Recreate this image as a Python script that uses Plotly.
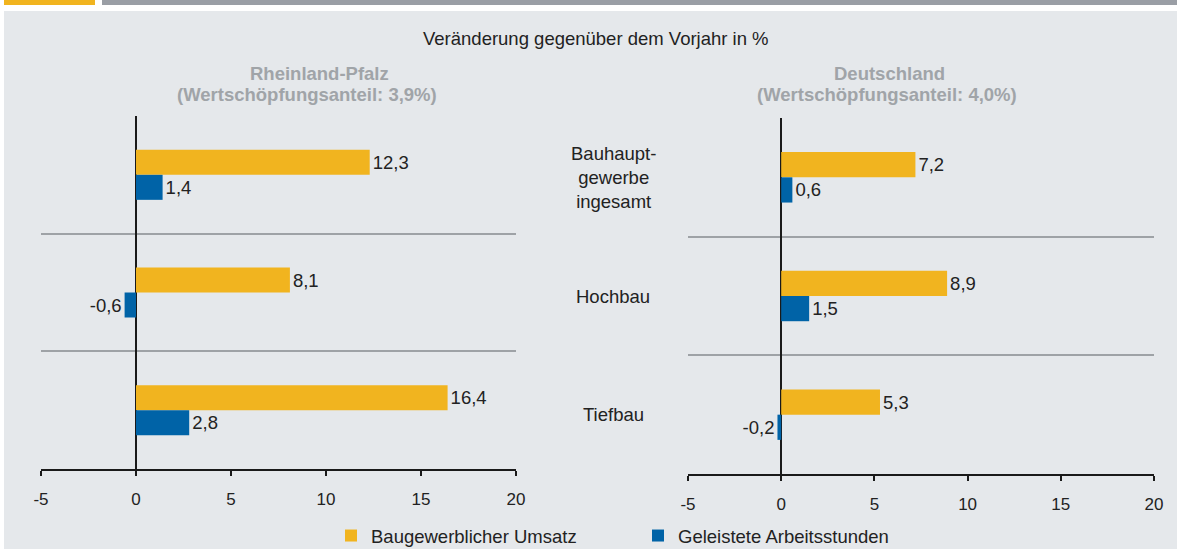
import plotly.graph_objects as go

# ---------------- data ----------------
categories = ["Bauhauptgewerbe ingesamt", "Hochbau", "Tiefbau"]
category_labels = ["Bauhaupt-<br>gewerbe<br>ingesamt", "Hochbau", "Tiefbau"]
series_names = ["Baugewerblicher Umsatz", "Geleistete Arbeitsstunden"]
rlp_umsatz = [12.3, 8.1, 16.4]
rlp_stunden = [1.4, -0.6, 2.8]
de_umsatz = [7.2, 8.9, 5.3]
de_stunden = [0.6, 1.5, -0.2]
x_ticks = [-5, 0, 5, 10, 15, 20]
title_text = "Veränderung gegenüber dem Vorjahr in %"
panel_title_lines = [["Rheinland-Pfalz", "(Wertschöpfungsanteil: 3,9%)"],
                     ["Deutschland", "(Wertschöpfungsanteil: 4,0%)"]]

# ---------------- style ----------------
W, H = 1177, 549
ML, MR, MT, MB = 41, 23, 116, 75
YELLOW = "#F1B41F"
BLUE = "#0063A7"
PANEL = "#E5E8EB"
SEP = "#9EA2A6"
TXT = "#222222"
SUB = "#A0A4A8"
FONT = "Liberation Sans, Arial, sans-serif"
FS = 18.5
FS_TICK = 17


def px(x):
    return (x - ML) / (W - ML - MR)


def py(y):
    return (H - MB - y) / (H - MT - MB)


def fmt(v):
    return f"{v:.1f}".replace(".", ",")


colors = [YELLOW, BLUE]
fig = go.Figure()
for ax, (u, s) in zip(["", "2"], [(rlp_umsatz, rlp_stunden), (de_umsatz, de_stunden)]):
    for name, vals, col in zip(series_names, [u, s], colors):
        fig.add_trace(go.Bar(
            y=categories, x=vals, orientation="h", name=name,
            marker=dict(color=col, line=dict(width=0)),
            text=[fmt(v) for v in vals], textposition="outside",
            textfont=dict(family=FONT, size=FS, color=TXT),
            cliponaxis=False, showlegend=(ax == ""),
            xaxis="x" + ax, yaxis="y" + ax,
        ))

xcommon = dict(range=[x_ticks[0], x_ticks[-1]], tickvals=x_ticks,
               ticktext=[str(t) for t in x_ticks], showgrid=False,
               zeroline=True, zerolinecolor="#1a1a1a", zerolinewidth=2,
               showline=True, linecolor="#1a1a1a", linewidth=2,
               ticks="outside", ticklen=5, tickwidth=2, tickcolor="#1a1a1a",
               tickfont=dict(family=FONT, size=FS_TICK, color=TXT),
               ticklabelstandoff=9, fixedrange=True)
ycommon = dict(categoryorder="array", categoryarray=categories,
               range=[len(categories) - 0.5, -0.5], autorange=False,
               showticklabels=False, ticks="", tickson="boundaries",
               showgrid=True, gridcolor=SEP, gridwidth=2,
               zeroline=False, showline=False, fixedrange=True)

shapes = [
    dict(type="rect", xref="paper", yref="paper", x0=px(4), x1=px(W), y0=py(11), y1=py(H),
         fillcolor=PANEL, line=dict(width=0), layer="below"),
    dict(type="rect", xref="paper", yref="paper", x0=px(4), x1=px(95), y0=py(0), y1=py(5),
         fillcolor="#F1B41F", line=dict(width=0), layer="below"),
    dict(type="rect", xref="paper", yref="paper", x0=px(102), x1=px(W), y0=py(0), y1=py(5),
         fillcolor="#9A9EA5", line=dict(width=0), layer="below"),
]

annotations = [
    dict(text=title_text, xref="paper", yref="paper", x=px(596), y=py(38),
         xanchor="center", yanchor="middle",
         showarrow=False, font=dict(family=FONT, size=FS, color=TXT)),
]
title_pos = [[(319, 73), (307, 95)], [(889, 73), (887, 95)]]
for lines, poss in zip(panel_title_lines, title_pos):
    for line, (xx, yy) in zip(lines, poss):
        annotations.append(dict(text="<b>" + line + "</b>", xref="paper", yref="paper",
                                x=px(xx), y=py(yy), xanchor="center", yanchor="middle",
                                showarrow=False,
                                font=dict(family=FONT, size=FS, color=SUB)))
for cat, lab in zip(categories, category_labels):
    annotations.append(dict(text=lab, xref="paper", yref="y2", x=px(613), y=cat,
                            xanchor="center", yanchor="middle",
                            showarrow=False, align="center",
                            font=dict(family=FONT, size=FS, color=TXT)))

fig.update_layout(
    width=W, height=H, margin=dict(l=ML, r=MR, t=MT, b=MB, pad=0, autoexpand=False),
    paper_bgcolor="white", plot_bgcolor="rgba(0,0,0,0)",
    barmode="group", bargap=0.575, bargroupgap=0,
    font=dict(family=FONT, size=FS, color=TXT),
    xaxis=dict(domain=[px(41), px(516)], anchor="y", **xcommon),
    xaxis2=dict(domain=[px(688), px(1154)], anchor="y2", **xcommon),
    yaxis=dict(domain=[py(469), py(116)], anchor="x", **ycommon),
    yaxis2=dict(domain=[py(474), py(118)], anchor="x2", **ycommon),
    shapes=shapes, annotations=annotations,
    legend=dict(orientation="h", x=px(331), y=py(536), xanchor="left", yanchor="middle",
                bgcolor="rgba(0,0,0,0)", borderwidth=0, entrywidth=262,
                font=dict(family=FONT, size=FS, color=TXT), traceorder="normal",
                itemclick=False, itemdoubleclick=False),
    showlegend=True,
)

fig.write_html("out.html", config={"displayModeBar": False},
               post_script="document.body.style.margin='0';document.body.style.overflow='hidden';")
